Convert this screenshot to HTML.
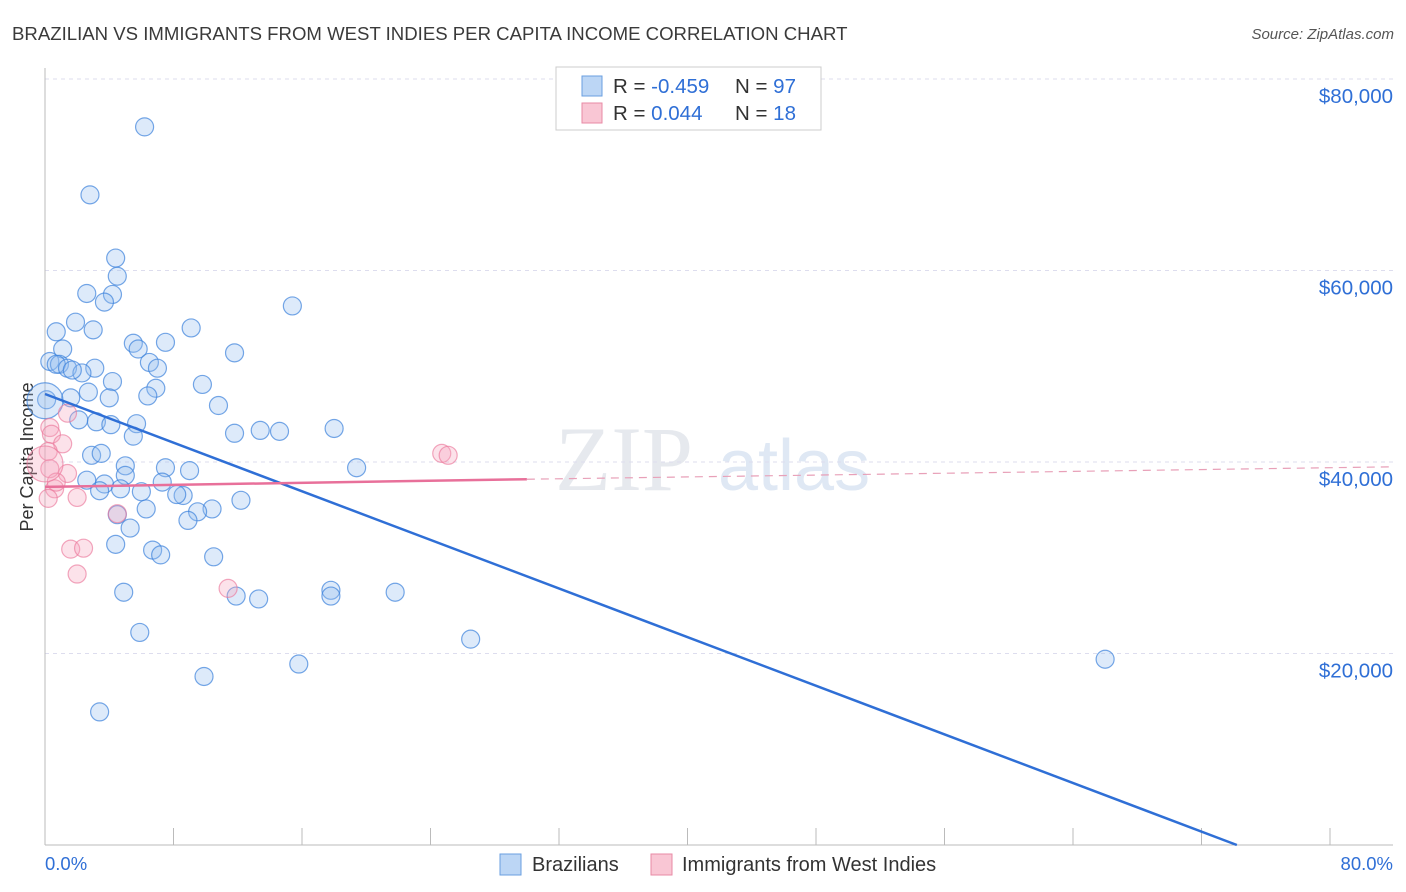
<!DOCTYPE html>
<html><head><meta charset="utf-8">
<style>
body{margin:0;background:#fff;font-family:"Liberation Sans",sans-serif;}
#wrap{position:relative;width:1406px;height:892px;overflow:hidden;}
</style></head>
<body>
<div id="wrap">
<svg id="svg" width="1406" height="892" xmlns="http://www.w3.org/2000/svg">
<text x="12" y="40" font-size="18.6" fill="#3a3a3a">BRAZILIAN VS IMMIGRANTS FROM WEST INDIES PER CAPITA INCOME CORRELATION CHART</text>
<text x="1394" y="39" font-size="15" fill="#555" font-style="italic" text-anchor="end">Source: ZipAtlas.com</text>
<text x="33" y="457" font-size="18" fill="#333" text-anchor="middle" transform="rotate(-90 33 457)">Per Capita Income</text>
<text x="555" y="490" font-size="92" fill="#e6e9ee" font-family="Liberation Serif,serif">ZIP</text>
<text x="718" y="490" font-size="72" fill="#dfe8f4">atlas</text>
<g id="grid"></g><g id="axes"></g><g id="pts"></g><g id="lines"></g>
<rect x="556" y="67" width="265" height="63" fill="#fff" stroke="#ccc"/>
<rect x="582" y="76" width="20" height="20" fill="#bcd6f5" stroke="#6a9fe0"/>
<rect x="582" y="103" width="20" height="20" fill="#f9c6d4" stroke="#e88aa5"/>
<text x="613" y="93" font-size="20.5" fill="#333">R = <tspan fill="#2f6fd6">-0.459</tspan></text>
<text x="735" y="93" font-size="20.5" fill="#333">N = <tspan fill="#2f6fd6">97</tspan></text>
<text x="613" y="120" font-size="20.5" fill="#333">R =  <tspan fill="#2f6fd6">0.044</tspan></text>
<text x="735" y="120" font-size="20.5" fill="#333">N =  <tspan fill="#2f6fd6">18</tspan></text>
<text x="45" y="870" font-size="18.5" fill="#2f6fd6">0.0%</text>
<text x="1393" y="870" font-size="18.5" fill="#2f6fd6" text-anchor="end">80.0%</text>
<rect x="500" y="854" width="21" height="21" fill="#bcd6f5" stroke="#6a9fe0"/>
<text x="532" y="871" font-size="20" fill="#333">Brazilians</text>
<rect x="651" y="854" width="21" height="21" fill="#f9c6d4" stroke="#e88aa5"/>
<text x="682" y="871" font-size="20" fill="#333">Immigrants from West Indies</text>
</svg>
</div>
<script>
const yTicks=[20000,40000,60000,80000];
const yTickLabels=["$20,000","$40,000","$60,000","$80,000"];
const blueX=[6.2,2.8,4.4,4.5,4.2,2.6,3.7,15.4,1.9,0.7,3.0,9.1,5.5,7.5,5.8,11.8,1.1,0.3,0.9,6.5,3.1,0.7,1.4,2.3,7.0,4.2,1.7,9.8,6.9,2.7,1.6,4.0,6.4,0.1,10.8,3.2,2.1,13.4,5.7,4.1,11.8,14.6,18.0,5.5,2.9,3.5,19.4,7.5,5.0,9.0,5.0,7.3,3.7,2.6,4.7,3.4,6.0,8.6,8.2,10.4,12.2,9.5,6.3,8.9,4.5,5.3,4.4,6.7,7.2,10.5,4.9,11.9,13.3,17.8,17.8,21.8,26.5,5.9,15.8,66.0,9.9,3.4,0.0];
const blueY=[75.0,67.9,61.3,59.4,57.5,57.6,56.7,56.3,54.6,53.6,53.8,54.0,52.4,52.5,51.8,51.4,51.8,50.5,50.2,50.4,49.8,50.2,49.8,49.3,49.8,48.4,49.6,48.1,47.7,47.3,46.7,46.7,46.9,46.5,45.9,44.2,44.4,43.3,44.0,43.9,43.0,43.2,43.5,42.7,40.7,40.9,39.4,39.4,39.6,39.1,38.6,37.9,37.7,38.1,37.2,37.0,36.9,36.5,36.6,35.1,36.0,34.8,35.1,33.9,34.5,33.1,31.4,30.8,30.3,30.1,26.4,26.0,25.7,26.6,26.0,26.4,21.5,22.2,18.9,19.4,17.6,13.9,46.4];
const blueR=[9,9,9,9,9,9,9,9,9,9,9,9,9,9,9,9,9,9,9,9,9,9,9,9,9,9,9,9,9,9,9,9,9,9,9,9,9,9,9,9,9,9,9,9,9,9,9,9,9,9,9,9,9,9,9,9,9,9,9,9,9,9,9,9,9,9,9,9,9,9,9,9,9,9,9,9,9,9,9,9,9,9,18];
const pinkX=[0.3,0.4,1.1,0.2,1.4,0.3,1.4,0.6,0.7,0.2,2.0,4.5,1.6,2.4,2.0,11.4,24.7,25.1,0.0];
const pinkY=[43.6,42.9,41.9,41.1,45.1,39.3,38.8,37.2,37.9,36.2,36.3,34.6,30.9,31.0,28.3,26.8,40.9,40.7,39.8];
const pinkR=[9,9,9,9,9,9,9,9,9,9,9,9,9,9,9,9,9,9,18];
const blueTrend=[[0,47.1],[74.2,0]];
const pinkTrend=[[0,37.4],[30,38.2],[84,39.5]];

const X0=45,X1=1330,Y0=845,YK=9.575;
const xs=v=>X0+v*(X1-X0)/80;
const ys=v=>Y0-v*YK;
const NS="http://www.w3.org/2000/svg";
function mk(tag,attrs,parent){const e=document.createElementNS(NS,tag);for(const k in attrs)e.setAttribute(k,attrs[k]);document.getElementById(parent).appendChild(e);return e;}

yTicks.forEach((t,i)=>{
  const g=mk('line',{x1:45,x2:1393,y1:ys(t/1000),y2:ys(t/1000),stroke:'#dde',"stroke-dasharray":'4,4'},'grid');
  
  
  const l=mk('text',{x:1393,y:ys(t/1000)+24,"font-size":20.5,fill:'#2f6fd6',"text-anchor":'end'},'grid');
  l.textContent=yTickLabels[i];
  
  
});
const gt=mk('line',{x1:45,x2:1393,y1:79,y2:79,stroke:'#dde',"stroke-dasharray":'4,4'},'grid');


const ya=mk('line',{x1:45,x2:45,y1:68,y2:845,stroke:'#bbb'},'axes');


const xa=mk('line',{x1:45,x2:1393,y1:845,y2:845,stroke:'#bbb'},'axes');


for(let i=0;i<=10;i++){
  const t=mk('line',{x1:xs(i*8),x2:xs(i*8),y1:828,y2:845,stroke:'#bbb'},'axes');
  
  
}
blueX.forEach((v,i)=>{
  const c=mk('circle',{cx:xs(v),cy:ys(blueY[i]),r:blueR[i],fill:'rgba(150,190,240,0.32)',stroke:'rgba(60,130,220,0.7)',"stroke-width":1.2},'pts');
  
  
});
pinkX.forEach((v,i)=>{
  const c=mk('circle',{cx:xs(v),cy:ys(pinkY[i]),r:pinkR[i],fill:'rgba(245,165,190,0.32)',stroke:'rgba(235,120,155,0.65)',"stroke-width":1.2},'pts');
  
  
});
const bl=mk('line',{x1:xs(blueTrend[0][0]),y1:ys(blueTrend[0][1]),x2:xs(blueTrend[1][0]),y2:ys(blueTrend[1][1]),stroke:'#2f6fd6',"stroke-width":2.5},'lines');


const pl=mk('line',{x1:xs(pinkTrend[0][0]),y1:ys(pinkTrend[0][1]),x2:xs(pinkTrend[1][0]),y2:ys(pinkTrend[1][1]),stroke:'#e8709a',"stroke-width":2.5},'lines');


const pd=mk('line',{x1:xs(pinkTrend[1][0]),y1:ys(pinkTrend[1][1]),x2:xs(pinkTrend[2][0]),y2:ys(pinkTrend[2][1]),stroke:'#e8a0b8',"stroke-width":1.2,"stroke-dasharray":'8,6'},'lines');


</script>
</body></html>
